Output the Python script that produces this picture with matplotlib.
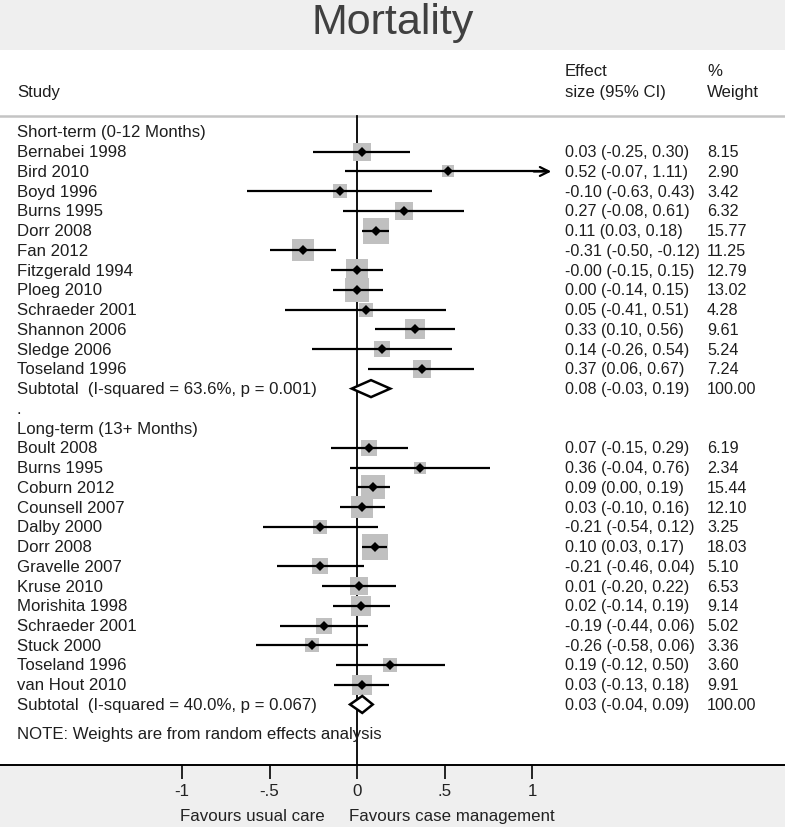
import matplotlib
matplotlib.use("Agg")
import matplotlib.pyplot as plt
from matplotlib.patches import Polygon
import matplotlib.transforms as mtransforms

plt.rcParams['font.family'] = ['Liberation Sans', 'DejaVu Sans']

# ---------------- data ----------------
short_header = "Short-term (0-12 Months)"
short_studies = ["Bernabei 1998", "Bird 2010", "Boyd 1996", "Burns 1995", "Dorr 2008",
                 "Fan 2012", "Fitzgerald 1994", "Ploeg 2010", "Schraeder 2001",
                 "Shannon 2006", "Sledge 2006", "Toseland 1996"]
short_es = [0.03, 0.52, -0.10, 0.27, 0.11, -0.31, -0.0, 0.00, 0.05, 0.33, 0.14, 0.37]
short_lo = [-0.25, -0.07, -0.63, -0.08, 0.03, -0.50, -0.15, -0.14, -0.41, 0.10, -0.26, 0.06]
short_hi = [0.30, 1.11, 0.43, 0.61, 0.18, -0.12, 0.15, 0.15, 0.51, 0.56, 0.54, 0.67]
short_w = [8.15, 2.90, 3.42, 6.32, 15.77, 11.25, 12.79, 13.02, 4.28, 9.61, 5.24, 7.24]
short_sub_label = "Subtotal  (I-squared = 63.6%, p = 0.001)"
short_sub = (0.08, -0.03, 0.19, 100.00)

long_header = "Long-term (13+ Months)"
long_studies = ["Boult 2008", "Burns 1995", "Coburn 2012", "Counsell 2007", "Dalby 2000",
                "Dorr 2008", "Gravelle 2007", "Kruse 2010", "Morishita 1998",
                "Schraeder 2001", "Stuck 2000", "Toseland 1996", "van Hout 2010"]
long_es = [0.07, 0.36, 0.09, 0.03, -0.21, 0.10, -0.21, 0.01, 0.02, -0.19, -0.26, 0.19, 0.03]
long_lo = [-0.15, -0.04, 0.00, -0.10, -0.54, 0.03, -0.46, -0.20, -0.14, -0.44, -0.58, -0.12, -0.13]
long_hi = [0.29, 0.76, 0.19, 0.16, 0.12, 0.17, 0.04, 0.22, 0.19, 0.06, 0.06, 0.50, 0.18]
long_w = [6.19, 2.34, 15.44, 12.10, 3.25, 18.03, 5.10, 6.53, 9.14, 5.02, 3.36, 3.60, 9.91]
long_sub_label = "Subtotal  (I-squared = 40.0%, p = 0.067)"
long_sub = (0.03, -0.04, 0.09, 100.00)

title = "Mortality"
note = "NOTE: Weights are from random effects analysis"
xticks = [-1, -0.5, 0, 0.5, 1]
xticklabels = ["-1", "-.5", "0", ".5", "1"]
favours_left = "Favours usual care"
favours_right = "Favours case management"

# ---------------- layout ----------------
W, H, DPI = 785, 828, 100
fig = plt.figure(figsize=(W / DPI, H / DPI), dpi=DPI, facecolor='#efefef')

px_per_unit = 175.0
x0_px = 357.0
row0_px = 133.0
row_px = 19.74
top_px, bot_px = 51.0, 766.0

ax = fig.add_axes([0, (H - bot_px) / H, 1, (bot_px - top_px) / H])
ax.set_facecolor('white')
ax.set_xlim(-x0_px / px_per_unit, (W - x0_px) / px_per_unit)
ax.set_ylim((bot_px - row0_px) / row_px, (top_px - row0_px) / row_px)

for s in ['top', 'left', 'right']:
    ax.spines[s].set_visible(False)
ax.spines['bottom'].set_linewidth(1.4)
ax.spines['bottom'].set_color('black')
ax.set_yticks([])
ax.set_xticks(xticks)
ax.set_xticklabels(xticklabels)
ax.tick_params(axis='x', direction='out', length=10, width=1.2, pad=3,
               labelsize=12.2, colors='black', labelcolor='#222222')

txt_color = '#1e1e1e'
fs = 12.1      # study column
fs_num = 11.6  # numeric columns
blend = mtransforms.blended_transform_factory(ax.transAxes, ax.transData)
col_study = 17 / W
col_es = 565 / W
col_w = 707 / W


def rowy(px):
    return (px - row0_px) / row_px


# header
ax.text(col_study, rowy(93), "Study", transform=blend, ha='left', va='center', fontsize=fs, color=txt_color)
ax.text(col_es, rowy(72), "Effect", transform=blend, ha='left', va='center', fontsize=fs, color=txt_color)
ax.text(col_es, rowy(93), "size (95% CI)", transform=blend, ha='left', va='center', fontsize=fs, color=txt_color)
ax.text(col_w, rowy(72), "%", transform=blend, ha='left', va='center', fontsize=fs, color=txt_color)
ax.text(col_w, rowy(93), "Weight", transform=blend, ha='left', va='center', fontsize=fs, color=txt_color)
sep_y = rowy(117)
ax.axhline(sep_y, color='#c4c4c4', lw=1.8, zorder=1)

# zero line
ax.plot([0, 0], [sep_y, ax.get_ylim()[0]], color='black', lw=1.3, zorder=2, clip_on=False)


def fmt(v):
    return f"{v:.2f}"


def draw_group(start_row, header, studies, es, lo, hi, w, sub_label, sub):
    ax.text(col_study, start_row, header, transform=blend, ha='left', va='center', fontsize=fs, color=txt_color)
    r = start_row + 1
    for name, e, l, h, wt in zip(studies, es, lo, hi, w):
        ax.text(col_study, r, name, transform=blend, ha='left', va='center', fontsize=fs, color=txt_color)
        ax.text(col_es, r, f"{fmt(e)} ({fmt(l)}, {fmt(h)})", transform=blend, ha='left',
                va='center', fontsize=fs_num, color=txt_color)
        ax.text(col_w, r, fmt(wt), transform=blend, ha='left', va='center', fontsize=fs_num, color=txt_color)
        side_px = 3.5 + 5.42 * wt ** 0.5
        ax.scatter([e], [r], marker='s', s=(side_px * 72 / DPI) ** 2, color='#c0c0c0',
                   linewidths=0, zorder=3)
        if h > 1.05:
            ax.plot([l, h - 0.02], [r, r], color='black', lw=1.6, zorder=4, solid_capstyle='butt')
            ax.annotate("", xy=(h, r), xytext=(h - 0.1, r),
                        arrowprops=dict(arrowstyle='->', color='black', lw=1.6,
                                        mutation_scale=16, shrinkA=0, shrinkB=0), zorder=4)
        else:
            ax.plot([l, h], [r, r], color='black', lw=1.6, zorder=4, solid_capstyle='butt')
        ax.plot([e], [r], marker='D', color='black', markersize=5.5, zorder=5, markeredgewidth=0)
        r += 1
    # subtotal
    se, sl, sh, sw = sub
    ax.text(col_study, r, sub_label, transform=blend, ha='left', va='center', fontsize=fs, color=txt_color)
    ax.text(col_es, r, f"{fmt(se)} ({fmt(sl)}, {fmt(sh)})", transform=blend, ha='left',
            va='center', fontsize=fs_num, color=txt_color)
    ax.text(col_w, r, fmt(sw), transform=blend, ha='left', va='center', fontsize=fs_num, color=txt_color)
    hh = 0.43
    ax.add_patch(Polygon([(sl, r), (se, r - hh), (sh, r), (se, r + hh)], closed=True,
                         facecolor='white', edgecolor='black', lw=1.8, zorder=6))
    return r


r_end = draw_group(0, short_header, short_studies, short_es, short_lo, short_hi, short_w,
                   short_sub_label, short_sub)
ax.text(col_study, r_end + 1, ".", transform=blend, ha='left', va='center', fontsize=fs, color=txt_color)
r_end = draw_group(r_end + 2, long_header, long_studies, long_es, long_lo, long_hi, long_w,
                   long_sub_label, long_sub)
ax.text(col_study, rowy(735), note, transform=blend, ha='left', va='center', fontsize=fs, color=txt_color)

# favours labels
fig.text(325 / W, 1 - 817 / H, favours_left, ha='right', va='center', fontsize=12.2, color='#222222')
fig.text(349 / W, 1 - 817 / H, favours_right, ha='left', va='center', fontsize=12.2, color='#222222')

# title
fig.text(0.5, 1 - 23 / H, title, ha='center', va='center', fontsize=31, color='#404040')

fig.savefig("out.png", dpi=DPI, facecolor=fig.get_facecolor())
